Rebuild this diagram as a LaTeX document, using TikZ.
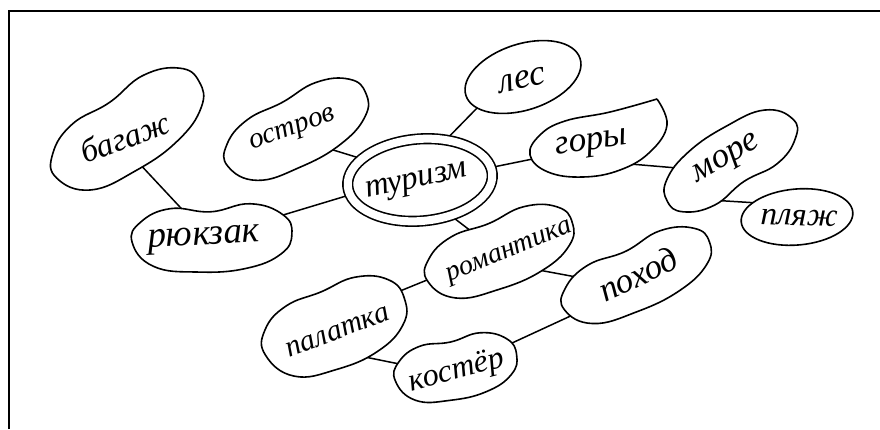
\documentclass[tikz,border=0pt]{standalone}
\usepackage{fontspec}
\setmainfont{Liberation Serif}
\usetikzlibrary{backgrounds,shapes.geometric}
\newcommand\beanshape[6]{%
  \draw[blob,shift={(#1,#2)},rotate=#5,xscale=#3,yscale=#4]
    plot[smooth cycle,tension=0.75] coordinates {(-1,0) (-0.88,-0.56) (-0.5,-0.9) (0,{-0.95+#6}) (0.5,-0.92) (0.9,-0.56) (1,0) (0.85,0.56) (0.4,0.92) (-0.2,0.95) (-0.75,0.72)};}
\tikzset{
  blob/.style={line width=1.6pt, fill=white, line join=round},
  anchorblob/.style={ellipse, inner sep=0pt, outer sep=0pt, draw=none},
  word/.style={font=\itshape\fontsize{#1}{#1}\selectfont, inner sep=0pt},
  link/.style={line width=1.5pt, shorten <=-8pt, shorten >=-8pt},
  frame/.style={line width=2.5pt},
}
\begin{document}
\begin{tikzpicture}[x=1pt,y=-1pt]
\useasboundingbox (0,0) rectangle (880,429);
\draw[frame] (9,429) -- (9,11) -- (880,11);

% invisible blob nodes (for connector anchors)
\node[anchorblob, rotate=34, minimum width=172pt, minimum height=80pt] (bagazh) at (128,130) {};
\node[anchorblob, rotate=28, minimum width=156pt, minimum height=72pt] (ostrov) at (297,130) {};
\node[anchorblob, rotate=18, minimum width=120pt, minimum height=66pt] (les) at (523,77) {};
\node[anchorblob, rotate=20, minimum width=144pt, minimum height=66pt] (gory) at (598,140) {};
\node[anchorblob, rotate=33, minimum width=150pt, minimum height=64pt] (more) at (730,160) {};
\node[anchorblob, rotate=5, minimum width=112pt, minimum height=56pt] (plyazh) at (797,217) {};
\node[anchorblob, rotate=3, minimum width=160pt, minimum height=70pt] (ryukzak) at (212,238) {};
\node[anchorblob, rotate=22, minimum width=156pt, minimum height=72pt] (romantika) at (500,252) {};
\node[anchorblob, rotate=25, minimum width=160pt, minimum height=68pt] (pohod) at (637,276) {};
\node[anchorblob, rotate=22, minimum width=150pt, minimum height=84pt] (palatka) at (335,327) {};
\node[anchorblob, rotate=12, minimum width=124pt, minimum height=64pt] (koster) at (456,368) {};

% central double ellipse
\node[ellipse, draw, double, double distance=8pt, line width=1.6pt, fill=white,
      rotate=5, minimum width=145pt, minimum height=82pt, inner sep=0pt] (turizm) at (420,180) {};

% words
\node[word=33, rotate=20] (bagazh-t) at (125,137) {багаж};
\node[word=29, rotate=20] (ostrov-t) at (293,131) {остров};
\node[word=36, rotate=12] (les-t) at (522,80) {лес};
\node[word=33, rotate=12] (turizm-t) at (417,183) {туризм};
\node[word=35, rotate=8] (gory-t) at (592,145) {горы};
\node[word=35, rotate=30] (more-t) at (727,160) {море};
\node[word=33, rotate=-2] (plyazh-t) at (799,218) {пляж};
\node[word=37, rotate=3] (ryukzak-t) at (204,240) {рюкзак};
\node[word=28, rotate=22] (romantika-t) at (510,253) {романтика};
\node[word=35, rotate=25] (pohod-t) at (638,274) {поход};
\node[word=30, rotate=21] (palatka-t) at (338,332) {палатка};
\node[word=32, rotate=15] (koster-t) at (457,372) {костёр};

\begin{pgfonlayer}{background}
% connectors
\draw[link] (bagazh.-102) -- (ryukzak.133);
\draw[link] (ryukzak.15) -- (turizm.-173);
\draw[link] (ostrov.-57) -- (turizm.155);
\draw[link] (les.-164) -- (turizm.52);
\draw[link] (turizm.5) -- (gory.176);
\draw[link] (gory.-60) -- (more.155);
\draw[link] (more.-135) -- (plyazh.157);
\draw[link] (turizm.-54) -- (romantika.122);
\draw[link] (romantika.-46) -- (pohod.156);
\draw[link] (romantika.179) -- (palatka.7);
\draw[link] (palatka.-65) -- (koster.164);
\draw[link] (koster.12) -- (pohod.-174);
% blobs
\beanshape{128}{130}{86}{40}{34}{0.12}
\beanshape{297}{130}{78}{36}{28}{0.08}
\draw[blob, rotate around={18:(523,77)}] (523,77) ellipse [x radius=60, y radius=33];
\draw[blob] plot[smooth, tension=0.7] coordinates {(657,99) (667,125) (650,152) (620,170) (583,177) (548,172) (530,155) (540,135) (565,121) (610,112) (657,99)};
\beanshape{730}{160}{75}{32}{213}{0.15}
\draw[blob, rotate around={5:(797,217)}] (797,217) ellipse [x radius=56, y radius=28];
\beanshape{212}{238}{80}{35}{3}{0.2}
\beanshape{500}{252}{78}{36}{22}{0.1}
\beanshape{637}{276}{80}{34}{25}{0.15}
\beanshape{335}{327}{75}{42}{22}{0.05}
\beanshape{456}{368}{62}{32}{12}{0.12}
\end{pgfonlayer}
\end{tikzpicture}
\end{document}
